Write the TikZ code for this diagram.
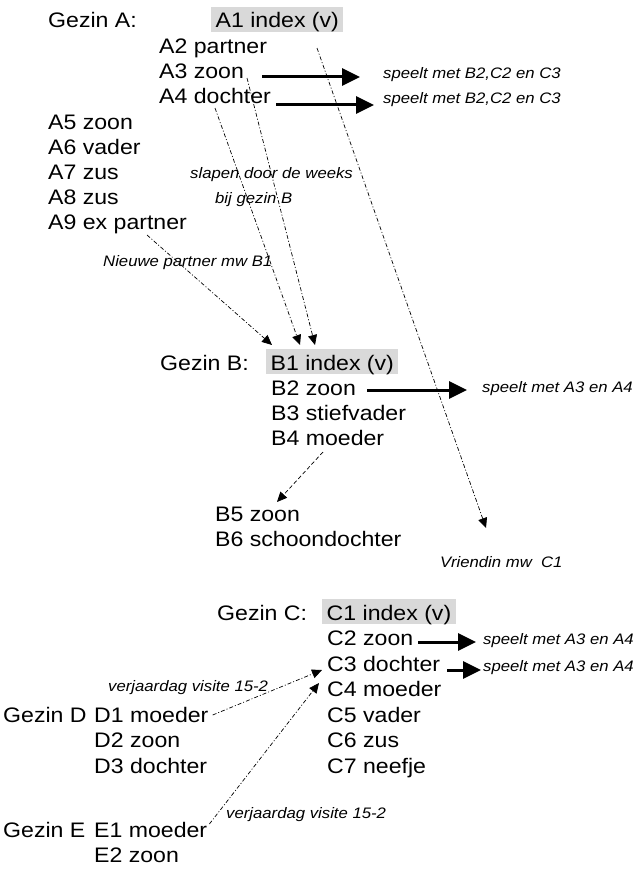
\documentclass[tikz,border=0pt]{standalone}
\usepackage{fontspec}
\setmainfont{Liberation Sans}[FakeStretch=1.1]
\usetikzlibrary{arrows.meta,calc}
\definecolor{boxgray}{RGB}{217,217,217}
\begin{document}
\begin{tikzpicture}[x=1pt,y=-1pt,
 txt/.style={anchor=base west, inner sep=0pt, font=\fontsize{21}{25}\selectfont},
 idx/.style={txt, fill=boxgray, inner xsep=4.5pt, inner ysep=0pt, text height=21pt, text depth=4pt},
 lbl/.style={anchor=west, inner sep=0pt, font=\fontsize{15.2}{18}\selectfont\itshape},
 bigarrow/.style={line width=3pt, -{Triangle[length=18pt,width=17pt]}},
 dashdot/.style={line width=0.7pt, dash pattern=on 4pt off 2pt on 1pt off 2pt, -{Triangle[length=10pt,width=9pt]}},
 dashline/.style={line width=0.7pt, dash pattern=on 4pt off 2.5pt, -{Triangle[length=10pt,width=9pt]}}]
\useasboundingbox (0,0) rectangle (635,872);
% ---- Gezin A
\node[txt] (GA) at (48,28) {Gezin A:};
\node[idx] (A1) at (211,28) {A1 index (v)};
\node[txt] (A2) at (159,54) {A2 partner};
\node[txt] (A3) at (159,79) {A3 zoon};
\node[txt] (A4) at (159,104) {A4 dochter};
\node[txt] (A5) at (48,129) {A5 zoon};
\node[txt] (A6) at (48,154) {A6 vader};
\node[txt] (A7) at (48,179) {A7 zus};
\node[txt] (A8) at (48,204) {A8 zus};
\node[txt] (A9) at (48,229) {A9 ex partner};
\node[lbl] (LA3) at (383,75) {speelt met B2,C2 en C3};
\node[lbl] (LA4) at (383,100) {speelt met B2,C2 en C3};
\node[lbl] (Lslap) at (190,175) {slapen door de weeks};
\node[lbl] (Lbij) at (215,200) {bij gezin B};
\node[lbl] (Lnieuw) at (103,263) {Nieuwe partner mw B1};
% ---- Gezin B
\node[txt] (GB) at (160,370) {Gezin B:};
\node[idx] (B1) at (266,370) {B1 index (v)};
\node[txt] (B2) at (271,395) {B2 zoon};
\node[txt] (B3) at (271,420) {B3 stiefvader};
\node[txt] (B4) at (271,445) {B4 moeder};
\node[lbl] (LB2) at (482,389) {speelt met A3 en A4};
\node[txt] (B5) at (215,521) {B5 zoon};
\node[txt] (B6) at (215,546) {B6 schoondochter};
\node[lbl] (Lvr) at (440,562) {Vriendin mw\ \ C1};
% ---- Gezin C
\node[txt] (GC) at (217,620) {Gezin C:};
\node[idx] (C1) at (322,620) {C1 index (v)};
\node[txt] (C2) at (327,645.5) {C2 zoon};
\node[txt] (C3) at (327,671) {C3 dochter};
\node[txt] (C4) at (327,696.5) {C4 moeder};
\node[txt] (C5) at (327,722) {C5 vader};
\node[txt] (C6) at (327,747.5) {C6 zus};
\node[txt] (C7) at (327,773) {C7 neefje};
\node[lbl] (LC2) at (483,641) {speelt met A3 en A4};
\node[lbl] (LC3) at (483,668) {speelt met A3 en A4};
% ---- Gezin D / E
\node[txt] (GD) at (3,722) {Gezin D};
\node[txt] (D1) at (94,722) {D1 moeder};
\node[txt] (D2) at (94,747.5) {D2 zoon};
\node[txt] (D3) at (94,773) {D3 dochter};
\node[lbl] (LD) at (108,688) {verjaardag visite 15-2};
\node[txt] (GE) at (3,837) {Gezin E};
\node[txt] (E1) at (94,837) {E1 moeder};
\node[txt] (E2) at (94,862) {E2 zoon};
\node[lbl] (LE) at (226,815) {verjaardag visite 15-2};
% ---- connector end points
\coordinate (a1s) at (317,48);
\coordinate (a3s) at (247,78);
\coordinate (a4s) at (215,108);
\coordinate (a9s) at (147,235);
\coordinate (tB1a) at (272,345);
\coordinate (tB1b) at (300,345);
\coordinate (tB1c) at (315,345);
\coordinate (tVr) at (486,528);
\coordinate (b4s) at (323,452);
\coordinate (tB5) at (277,502);
\coordinate (tC3a) at (322,670);
\coordinate (tC3b) at (319,683);
\coordinate (d1s) at ($(D1.base east)+(4,-7)$);
\coordinate (e1s) at ($(E1.base east)+(2,-13)$);
% thick arrows
\coordinate (a3a) at (262,77);  \coordinate (a3b) at (360,77);
\coordinate (a4a) at (276,105); \coordinate (a4b) at (374,105);
\coordinate (b2a) at (367,390); \coordinate (b2b) at (467,390);
\coordinate (c2a) at (418,642); \coordinate (c2b) at (476,642);
\coordinate (c3a) at (447,670); \coordinate (c3b) at (481,670);
\draw[bigarrow] (a3a) -- (a3b);
\draw[bigarrow] (a4a) -- (a4b);
\draw[bigarrow] (b2a) -- (b2b);
\draw[bigarrow] (c2a) -- (c2b);
\draw[bigarrow] (c3a) -- (c3b);
% dashed connectors
\draw[dashdot] (a9s) -- (tB1a);
\draw[dashdot] (a4s) -- (tB1b);
\draw[dashdot] (a3s) -- (tB1c);
\draw[dashdot] (a1s) -- (tVr);
\draw[dashline] (b4s) -- (tB5);
\draw[dashdot] (d1s) -- (tC3a);
\draw[dashdot] (e1s) -- (tC3b);
\end{tikzpicture}
\end{document}
